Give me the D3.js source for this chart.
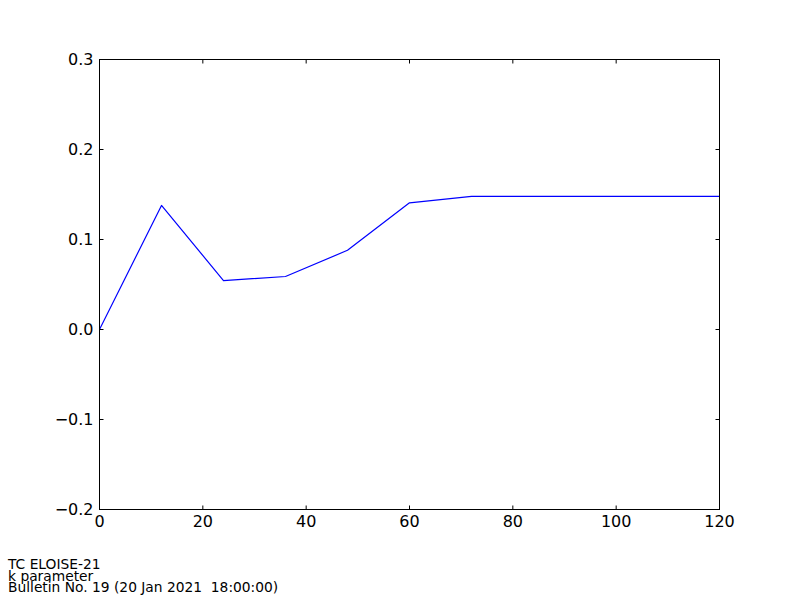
<!DOCTYPE html>
<html><head><meta charset="utf-8">
<script src="https://cdn.jsdelivr.net/npm/d3@7"></script>
<style>body{margin:0;background:#fff}svg{display:block}text{font-family:"DejaVu Sans",sans-serif}</style>
</head><body>
<svg id="c" width="800" height="600"></svg>
<script>
const hours = [0, 12, 24, 36, 48, 60, 72, 84, 96, 108, 120];
const kValues = [0.0, 0.1378, 0.0544, 0.0589, 0.0880, 0.1408, 0.1480, 0.1480, 0.1480, 0.1480, 0.1480];
const xTicks = [0, 20, 40, 60, 80, 100, 120];
const yTicks = [-0.2, -0.1, 0.0, 0.1, 0.2, 0.3];
const footer = ["TC ELOISE-21", "k parameter", "Bulletin No. 19 (20 Jan 2021  18:00:00)"];

const svg = d3.select("#c");
const L = 99.5, R = 719.5, T = 59.5, B = 509.5;
const x = d3.scaleLinear().domain([0, 120]).range([L, R]);
const y = d3.scaleLinear().domain([-0.2, 0.3]).range([B, T]);
const fmtY = v => (v < 0 ? "\u2212" : "") + Math.abs(v).toFixed(1);

svg.append("path").attr("fill","none").attr("stroke","#0000ff").attr("stroke-width",1.2)
  .attr("stroke-linejoin","round")
  .attr("d", d3.line().x((d,i)=>x(hours[i])).y(d=>y(d))(kValues));

const tl = 4;
const g = svg.append("g");
xTicks.forEach(t => {
  g.append("line").attr("x1",x(t)).attr("x2",x(t)).attr("y1",B).attr("y2",B-tl).attr("stroke","#000");
  g.append("line").attr("x1",x(t)).attr("x2",x(t)).attr("y1",T).attr("y2",T+tl).attr("stroke","#000");
  g.append("text").attr("x",x(t)).attr("y",B+5).attr("dy","0.8em").attr("text-anchor","middle")
    .attr("font-size","16px").text(t);
});
yTicks.forEach(t => {
  g.append("line").attr("x1",L).attr("x2",L+tl).attr("y1",y(t)).attr("y2",y(t)).attr("stroke","#000");
  g.append("line").attr("x1",R).attr("x2",R-tl).attr("y1",y(t)).attr("y2",y(t)).attr("stroke","#000");
  g.append("text").attr("x",L-6).attr("y",y(t)).attr("dy","0.35em").attr("text-anchor","end")
    .attr("font-size","16px").text(fmtY(t));
});
svg.append("rect").attr("x",L).attr("y",T).attr("width",R-L).attr("height",B-T)
  .attr("fill","none").attr("stroke","#000").attr("stroke-width",1);

footer.forEach((s,i) => {
  svg.append("text").attr("x",8).attr("y",569+i*11.5).attr("font-size","13.8px")
    .style("white-space","pre").text(s);
});
</script>
</body></html>
